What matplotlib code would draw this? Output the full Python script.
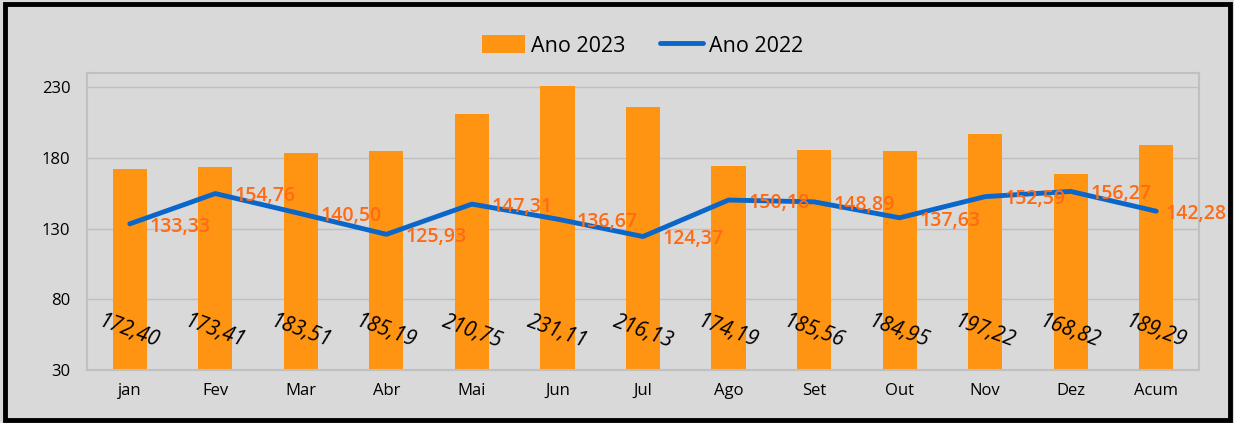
import numpy as np
import matplotlib.pyplot as plt
from matplotlib.patches import Rectangle

# ==================== DATA ====================
meses = ['jan', 'Fev', 'Mar', 'Abr', 'Mai', 'Jun', 'Jul', 'Ago', 'Set',
         'Out', 'Nov', 'Dez', 'Acum']
ano_2023 = [172.40, 173.41, 183.51, 185.19, 210.75, 231.11, 216.13,
            174.19, 185.56, 184.95, 197.22, 168.82, 189.29]
ano_2022 = [133.33, 154.76, 140.50, 125.93, 147.31, 136.67, 124.37,
            150.18, 148.89, 137.63, 152.59, 156.27, 142.28]
y_ticks = [30, 80, 130, 180, 230]

# ==================== STYLE ====================
plt.rcParams['font.family'] = ['Open Sans', 'DejaVu Sans']
bg = '#d9d9d9'
bar_color = '#ff9412'
line_color = '#0a66c8'
label_orange = '#ff6a13'


def fmt(v):
    return f"{v:.2f}".replace('.', ',')


fig = plt.figure(figsize=(12.34, 4.23), dpi=100)
fig.patch.set_facecolor(bg)

# outer frame
fig.patches.append(Rectangle((0.004, 0.006), 0.993, 0.985, transform=fig.transFigure,
                             fill=False, edgecolor='black', linewidth=3.5))

ax = fig.add_axes([87 / 1234, 1 - 370 / 423, (1199 - 87) / 1234, (370 - 73) / 423])
ax.set_facecolor(bg)

x = np.arange(len(meses))
bars = ax.bar(x, ano_2023, width=0.4, color=bar_color, label='Ano 2023', zorder=2)
line, = ax.plot(x, ano_2022, color=line_color, linewidth=3.5, solid_capstyle='round',
                label='Ano 2022', zorder=3)

# bar labels (black, italic, rotated)
for xi, v in zip(x, ano_2023):
    ax.text(xi, 57, fmt(v), rotation=-20, ha='center', va='center',
            style='italic', fontsize=15, color='black', zorder=4,
            rotation_mode='anchor')

# line labels (orange, semibold) - last one sits closer to the point
for i, (xi, v) in enumerate(zip(x, ano_2022)):
    dx = 7 if i == len(x) - 1 else 14
    ax.annotate(fmt(v), (xi, v), xytext=(dx, -2), textcoords='offset points',
                ha='left', va='center', fontsize=14, fontweight='semibold',
                color=label_orange, zorder=4)

ax.set_ylim(30, 240)
ax.set_xlim(-0.5, len(meses) - 0.5)
ax.set_yticks(y_ticks)
ax.set_xticks(x)
ax.set_xticklabels(meses)
ax.tick_params(axis='both', length=0, labelsize=12, colors='black')
ax.tick_params(axis='x', pad=9)
ax.tick_params(axis='y', pad=12)
ax.grid(axis='y', color='#bfbfbf', linewidth=1, zorder=0)
for s in ax.spines.values():
    s.set_color('#c0c0c0')
    s.set_linewidth(1.5)

ax.legend([bars, line], ['Ano 2023', 'Ano 2022'], loc='center',
          bbox_to_anchor=(0.5, 1 + (73 - 46) / 297), ncol=2,
          frameon=False, fontsize=15.5, handlelength=2.0, handleheight=0.9,
          columnspacing=1.6, handletextpad=0.28)

fig.savefig('out.png', dpi=100, facecolor=bg)
